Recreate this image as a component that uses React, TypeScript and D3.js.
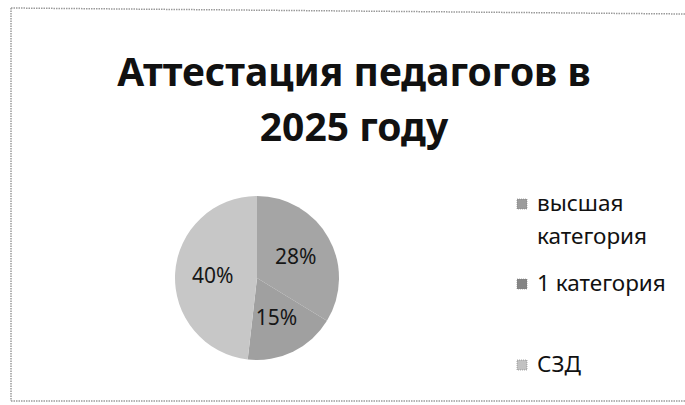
import * as d3 from "d3";

const categories = ["высшая категория", "1 категория", "СЗД"];
const values = [28, 15, 40];
const labels = ["28%", "15%", "40%"];
const colors = ["#a5a5a5", "#a0a0a0", "#c7c7c7"];
const legendColors = ["#9c9c9c", "#858585", "#c2c2c2"];
const legendLines = [["высшая", "категория"], ["1 категория"], ["СЗД"]];

const W = 685;
const H = 405;
const font = "'Noto Sans', 'Open Sans', sans-serif";

export default function App() {
  const cx = 257;
  const cy = 278;
  const r = 82;

  const pie = d3.pie<number>().sort(null).value((d) => d);
  const arcs = pie(values);
  const arc = d3.arc<d3.PieArcDatum<number>>().innerRadius(0).outerRadius(r);
  const labelArc = d3
    .arc<d3.PieArcDatum<number>>()
    .innerRadius(r * 0.54)
    .outerRadius(r * 0.54);

  // legend rows: baseline of the first line of each entry
  const legendY = d3.scaleOrdinal<string, number>().domain(categories).range([211, 291, 372]);

  return (
    <svg
      width={W}
      height={H}
      style={{ position: "absolute", left: 0, top: 0, background: "#fff" }}
    >
      {/* frame of the scanned chart */}
      <g stroke="#9a9a9a" strokeWidth={1.5} strokeDasharray="1.5,1" fill="none">
        <line x1={11} y1={8} x2={685} y2={14} />
        <line x1={11} y1={8} x2={11} y2={401} />
        <line x1={11} y1={401} x2={685} y2={401} />
      </g>

      <text
        x={353}
        textAnchor="middle"
        fontFamily={font}
        fontWeight={700}
        fontSize={39}
        fill="#111"
      >
        <tspan x={354} y={86}>Аттестация педагогов в</tspan>
        <tspan x={354} y={141}>2025 году</tspan>
      </text>

      <g transform={`translate(${cx},${cy})`}>
        {arcs.map((a, i) => (
          <path key={i} d={arc(a) ?? ""} fill={colors[i]} />
        ))}
        {arcs.map((a, i) => {
          const [x, y] = labelArc.centroid(a);
          return (
            <text
              key={i}
              x={x}
              y={y}
              dy="0.36em"
              textAnchor="middle"
              fontFamily={font}
              fontSize={21}
              fill="#161616"
            >
              {labels[i]}
            </text>
          );
        })}
      </g>

      <g fontFamily={font} fontSize={22.5} fill="#111">
        {categories.map((c, i) => (
          <g key={c}>
            <rect
              x={517}
              y={legendY(c) - 12}
              width={10}
              height={10}
              fill={legendColors[i]}
              stroke="#7a7a7a"
              strokeWidth={0.6}
              strokeDasharray="1,1"
            />
            <text x={537} y={legendY(c)}>
              {legendLines[i].map((t, j) => (
                <tspan key={j} x={537} dy={j === 0 ? 0 : 33}>
                  {t}
                </tspan>
              ))}
            </text>
          </g>
        ))}
      </g>
    </svg>
  );
}
